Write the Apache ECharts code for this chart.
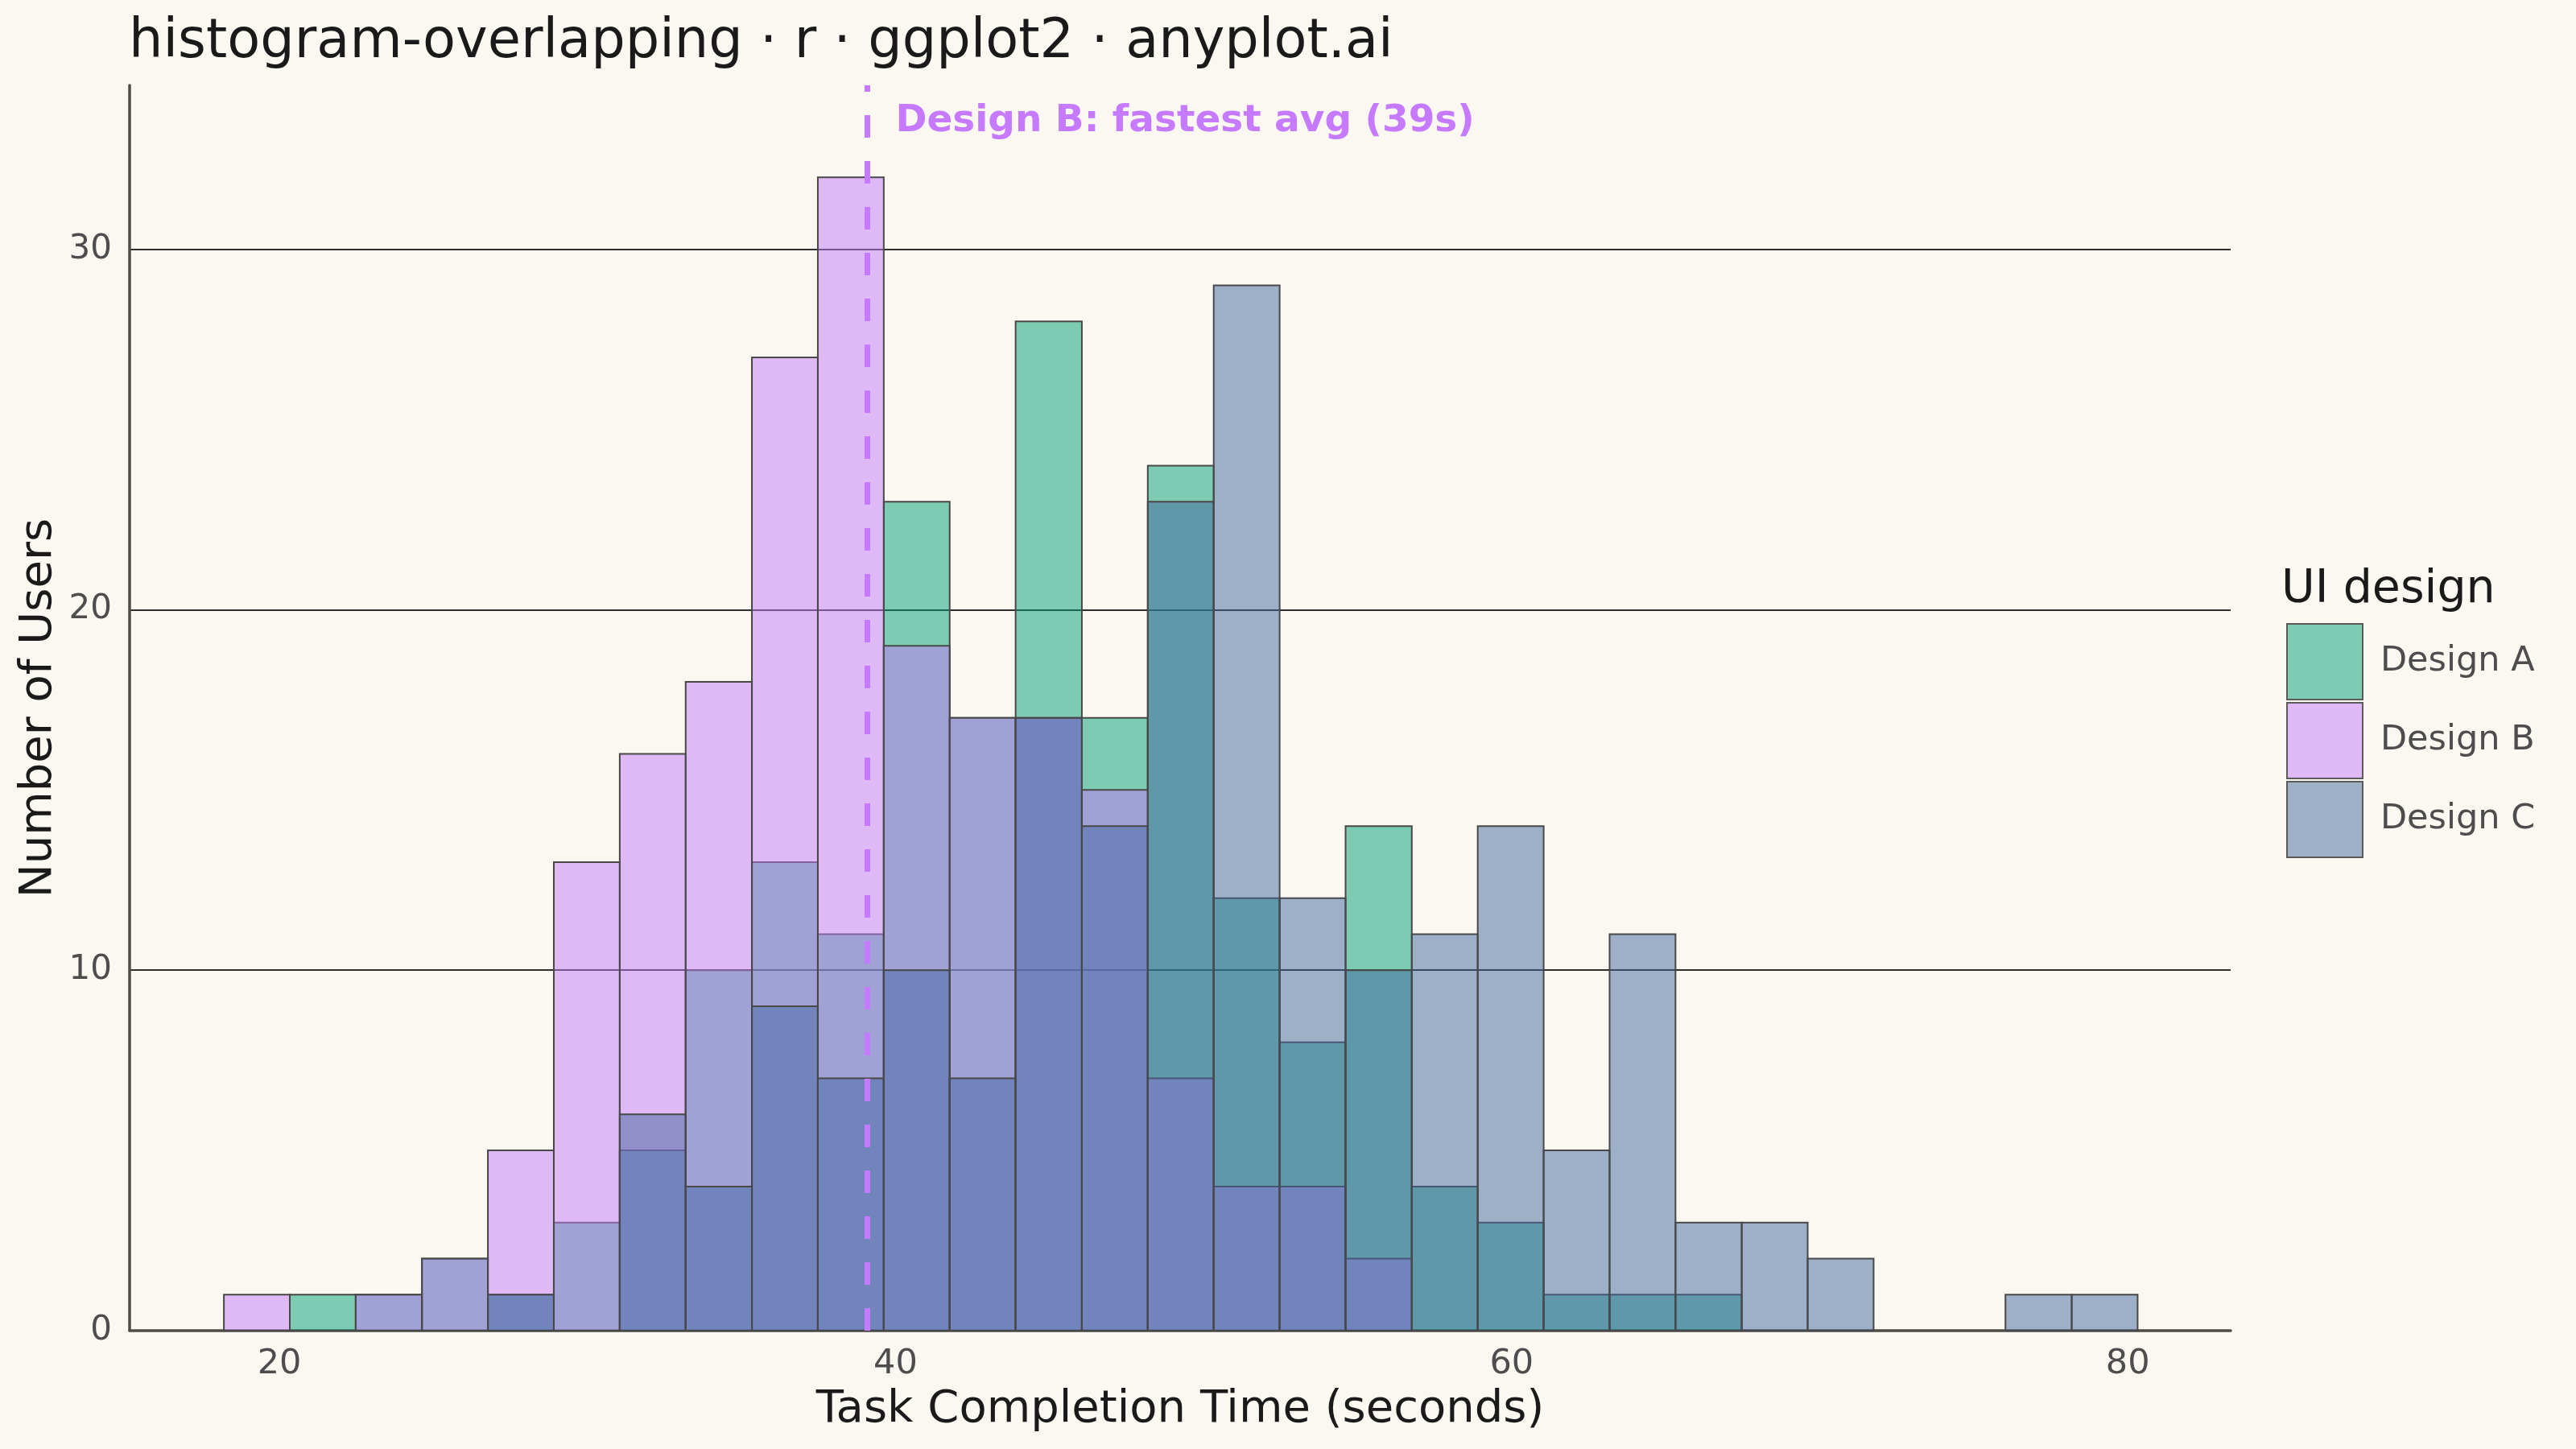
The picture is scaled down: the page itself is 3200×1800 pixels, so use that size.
<!DOCTYPE html>
<html>
<head>
<meta charset="utf-8">
<script src="https://cdn.jsdelivr.net/npm/echarts@6/dist/echarts.min.js"></script>
<style>
html,body{margin:0;padding:0;background:#FAF8F1;}
#chart{width:3200px;height:1800px;}
</style>
</head>
<body>
<div id="chart"></div>
<script>
// ---- data ----
const binEdges = [18.20, 20.34, 22.48, 24.63, 26.77, 28.91, 31.05, 33.19, 35.34, 37.48,
                  39.62, 41.76, 43.90, 46.05, 48.19, 50.33, 52.47, 54.61, 56.76, 58.90,
                  61.04, 63.18, 65.32, 67.47, 69.61, 71.75, 73.89, 76.03, 78.18, 80.32];
const designNames = ['Design A', 'Design B', 'Design C'];
const countsA = [0,1,1,2,1,3,5,10,13,11,23,17,28,17,24,12,8,14,4,3,1,1,1,0,0,0,0,0,0];
const countsB = [1,0,1,2,5,13,16,18,27,32,19,17,17,15,7,4,4,2,0,0,0,0,0,0,0,0,0,0,0];
const countsC = [0,0,0,0,1,0,6,4,9,7,10,7,17,14,23,29,12,10,11,14,5,11,3,3,2,0,0,1,1];
const meanB = 39.08;
const annotationText = 'Design B: fastest avg (39s)';
const annotationX = 40.0;
const annotationY = 33.56;
const xTicks = [20, 40, 60, 80];
const yTicks = [0, 10, 20, 30];

// ---- styling ----
const fills = ['rgba(0,158,115,0.5)', 'rgba(196,122,250,0.5)', 'rgba(66,102,159,0.5)'];
const edge = '#484848';
const highlight = '#C67AFF';
const font = 'DejaVu Sans';

function binData(counts) {
  const out = [];
  counts.forEach((c, i) => { if (c > 0) out.push([binEdges[i], binEdges[i + 1], c]); });
  return out;
}

function makeRender(fill) {
  return function (params, api) {
    const x0 = api.value(0), x1 = api.value(1), h = api.value(2);
    const p0 = api.coord([x0, h]);
    const p1 = api.coord([x1, 0]);
    return {
      type: 'rect',
      shape: { x: p0[0], y: p0[1], width: p1[0] - p0[0], height: p1[1] - p0[1] },
      style: { fill: fill, stroke: edge, lineWidth: 2 }
    };
  };
}

const allCounts = [countsA, countsB, countsC];
const series = allCounts.map((counts, k) => {
  const s = {
    name: designNames[k],
    type: 'custom',
    renderItem: makeRender(fills[k]),
    data: binData(counts),
    encode: { x: [0, 1], y: 2 },
    itemStyle: { color: fills[k], borderColor: edge, borderWidth: 2 },
    z: 2 + k,
    silent: true
  };
  if (k === 1) {
    s.markLine = {
      silent: true,
      symbol: ['none', 'none'],
      label: { show: false },
      lineStyle: { color: highlight, width: 7, type: [28, 29], opacity: 1 },
      emphasis: { disabled: true },
      data: [{ xAxis: meanB }],
      z: 10
    };
  }
  return s;
});

// annotation text placed through the axes' scales
series.push({
  type: 'custom',
  data: [[annotationX, annotationY]],
  encode: { x: 0, y: 1 },
  silent: true,
  z: 20,
  renderItem: function (params, api) {
    const p = api.coord([api.value(0), api.value(1)]);
    return {
      type: 'text',
      x: p[0], y: p[1],
      style: {
        text: annotationText,
        fill: highlight,
        font: 'bold 47px "DejaVu Sans"',
        textAlign: 'left',
        textVerticalAlign: 'middle'
      }
    };
  }
});

const gridColorCycle = ['rgba(0,0,0,0)', '#2e2e2e', '#2e2e2e', '#2e2e2e', 'rgba(0,0,0,0)'];

const option = {
  backgroundColor: '#FAF8F1',
  animation: false,
  textStyle: { fontFamily: font },
  title: [
    {
      text: 'histogram-overlapping · r · ggplot2 · anyplot.ai',
      left: 160, top: 20, padding: 0,
      textStyle: { fontFamily: font, fontSize: 67, fontWeight: 'normal', color: '#1a1a1a' }
    },
    {
      text: 'UI design',
      left: 2834, top: 705, padding: 0,
      textStyle: { fontFamily: font, fontSize: 57, fontWeight: 'normal', color: '#1a1a1a' }
    }
  ],
  legend: {
    orient: 'vertical',
    left: 2840, top: 774, padding: 0,
    itemWidth: 94, itemHeight: 94, itemGap: 2,
    icon: 'rect',
    selectedMode: false,
    textStyle: { fontFamily: font, fontSize: 43, color: '#4d4d4d', padding: [0, 0, 0, 17] },
    data: designNames.map((n, k) => ({
      name: n, icon: 'rect',
      itemStyle: { color: fills[k], borderColor: '#5a5a5a', borderWidth: 2 }
    }))
  },
  grid: { left: 161, right: 429, top: 106, bottom: 147, containLabel: false, outerBoundsMode: 'none' },
  xAxis: {
    type: 'value',
    min: 15.14, max: 83.34,
    splitNumber: 3,
    name: 'Task Completion Time (seconds)',
    nameLocation: 'middle',
    nameGap: 70,
    nameMoveOverlap: false,
    nameTextStyle: { fontFamily: font, fontSize: 56, color: '#1a1a1a' },
    axisLine: { show: true, onZero: false, lineStyle: { color: '#4d4d47', width: 3.5 } },
    axisTick: { show: false },
    splitLine: { show: false },
    axisLabel: {
      margin: 20, fontFamily: font, fontSize: 43, color: '#4d4d4d',
      showMinLabel: false, showMaxLabel: false,
      formatter: v => (xTicks.indexOf(v) >= 0 ? String(v) : '')
    }
  },
  yAxis: {
    type: 'value',
    min: 0, max: 34.55, interval: 10,
    name: 'Number of Users',
    nameLocation: 'middle',
    nameGap: 85,
    nameMoveOverlap: false,
    nameTextStyle: { fontFamily: font, fontSize: 56, color: '#1a1a1a' },
    axisLine: { show: true, lineStyle: { color: '#4d4d47', width: 3.5 } },
    axisTick: { show: false },
    splitLine: { show: true, lineStyle: { color: gridColorCycle, width: 2 } },
    axisLabel: {
      margin: 22, fontFamily: font, fontSize: 42, color: '#4d4d4d',
      showMaxLabel: false,
      formatter: v => (yTicks.indexOf(v) >= 0 ? String(v) : '')
    }
  },
  series: series
};

const chart = echarts.init(document.getElementById('chart'), null, { renderer: 'canvas' });
chart.setOption(option);
</script>
</body>
</html>
